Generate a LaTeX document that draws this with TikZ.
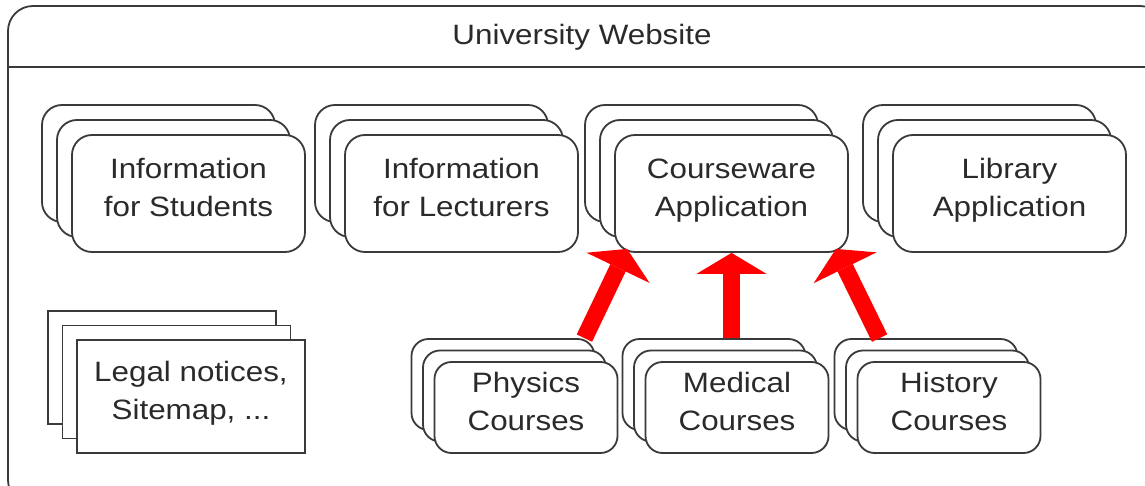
\documentclass[tikz,border=0pt]{standalone}
\usepackage{fontspec}
\setmainfont{Liberation Sans}[FakeStretch=1.12]
\usetikzlibrary{arrows.meta}
\definecolor{edge}{HTML}{3A3A3A}
\definecolor{txt}{HTML}{2A2A2A}
\newcommand\cardstack[5]{% style, offset, name, x, y
  \node[#1] (#3B) at (#4-2*#2,#5-2*#2) {};
  \node[#1] (#3M) at (#4-#2,#5-#2) {};
}
\begin{document}
\begin{tikzpicture}[x=1pt,y=-1pt,
  lbl/.style={font=\fontsize{28}{38}\selectfont, text=txt, align=center},
  card/.style={lbl, draw=edge, line width=1.8pt, fill=white, rounded corners=20pt,
    minimum width=233pt, minimum height=117pt, inner sep=0pt,
    execute at begin node=\strut, execute at end node=\strut},
  smallcard/.style={card, rounded corners=17pt, minimum width=183pt, minimum height=91pt},
  sheet/.style={card, sharp corners, minimum width=228pt, minimum height=113pt},
  frame/.style={draw=edge, line width=1.8pt, rounded corners=25pt, inner sep=0pt},
  bigarrow/.style={draw=red, line width=17pt,
    -{Triangle[width=70pt,length=21pt,line width=0pt]}}
]
\useasboundingbox (0,0) rectangle (1145,486);
% outer frame (cut by the picture's edge on the right and at the bottom)
\node[frame, minimum width=1157pt, minimum height=499pt] (site) at (586.5,255.5) {};
\node[lbl, anchor=base] (title) at (582,45) {University Website};
\coordinate (hdr) at (0,67);
\draw[draw=edge, line width=1.8pt] (site.west |- hdr) -- (site.east |- hdr);

% top row
\cardstack{card}{15}{stu}{188.5}{193.5}
\node[card] (stu) at (188.5,193.5) {Information\\for Students};
\cardstack{card}{15}{lec}{461.5}{193.5}
\node[card] (lec) at (461.5,193.5) {Information\\for Lecturers};
\cardstack{card}{15}{cw}{731.5}{193.5}
\node[card] (cw) at (731.5,193.5) {Courseware\\Application};
\cardstack{card}{15}{lib}{1009.5}{193.5}
\node[card] (lib) at (1009.5,193.5) {Library\\Application};

% bottom row
\cardstack{sheet}{14.5}{leg}{191}{396.5}
\node[sheet] (leg) at (191,396.5) {Legal notices,\\Sitemap, ...};
\cardstack{smallcard}{11.5}{phy}{526}{407.5}
\node[smallcard] (phy) at (526,407.5) {Physics\\Courses};
\cardstack{smallcard}{11.5}{med}{737}{407.5}
\node[smallcard] (med) at (737,407.5) {Medical\\Courses};
\cardstack{smallcard}{11.5}{his}{949}{407.5}
\node[smallcard] (his) at (949,407.5) {History\\Courses};

% arrows
\draw[bigarrow] ([xshift=-11pt]phyB.north east) -- ([xshift=13pt,yshift=4pt]cw.south west);
\draw[bigarrow] (cw.south |- medB.north) -- (cw.south);
\draw[bigarrow] ([xshift=46pt]hisB.north west) -- ([xshift=-13pt,yshift=4pt]cw.south east);
\end{tikzpicture}
\end{document}
